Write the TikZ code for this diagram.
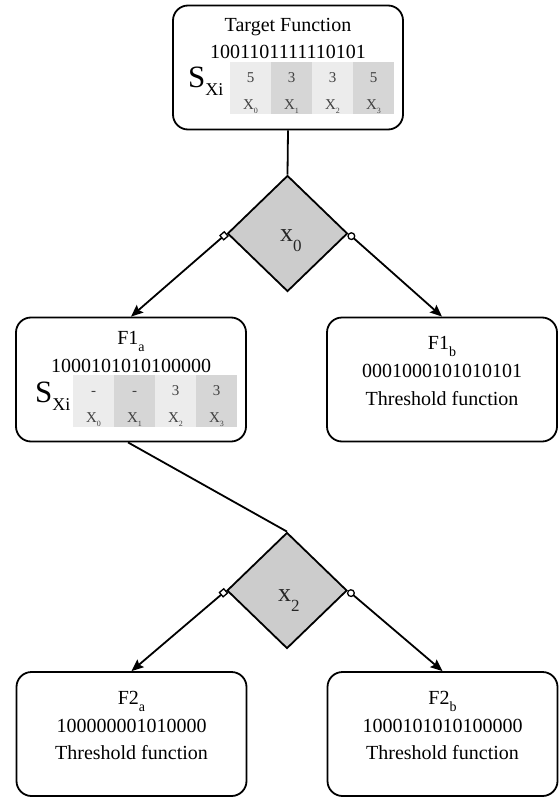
\documentclass[tikz,border=0pt]{standalone}
\usepackage{fontspec}
\setmainfont{Liberation Serif}
\usetikzlibrary{shapes.geometric,arrows.meta}
\definecolor{cellL}{gray}{0.925}
\definecolor{cellD}{gray}{0.84}
\definecolor{dia}{gray}{0.8}
\definecolor{numc}{gray}{0.25}
\newcommand\cellsub[1]{\raisebox{-4pt}{\fontsize{8}{8}\selectfont #1}}
\newcommand\boxsub[1]{\raisebox{-7pt}{\fontsize{14}{14}\selectfont #1}}
\newcommand\sxsub{\raisebox{-8pt}{\fontsize{18}{18}\selectfont Xi}}
\newcommand\diasub[1]{\raisebox{-10pt}{\fontsize{17}{17}\selectfont #1}}
\begin{document}
\begin{tikzpicture}[x=1pt,y=-1pt,
 fbox/.style={draw,line width=1.8pt,rounded corners=15pt,minimum width=230pt,minimum height=124pt,inner sep=0},
 txt/.style={font=\fontsize{20}{24}\selectfont,inner sep=0,anchor=base},
 sx/.style={font=\fontsize{31}{34}\selectfont,inner sep=0,anchor=base west},
 cell/.style={minimum width=41pt,minimum height=52pt,inner sep=0,anchor=north west},
 cnum/.style={font=\fontsize{15}{18}\selectfont,text=numc,inner sep=0,anchor=base},
 dec/.style={diamond,draw,fill=dia,line width=1.8pt,minimum width=120pt,minimum height=116pt,inner sep=0},
 dtxt/.style={font=\fontsize{26}{30}\selectfont,text=black!85,inner sep=0,anchor=base west},
 conn/.style={line width=1.8pt},
 arr/.style={line width=1.8pt,-{Stealth[length=12pt,width=10pt,inset=2pt]}},
 sqstart/.style={{Square[fill=white,length=7pt,width=7pt,line width=1.3pt]}-{Stealth[length=12pt,width=10pt,inset=2pt]}},
 cistart/.style={{Circle[fill=white,length=8pt,width=8pt,line width=1.3pt]}-{Stealth[length=12pt,width=10pt,inset=2pt]}}
]
\useasboundingbox (0,0) rectangle (559,797);

% ---------- top box ----------
\node[fbox] (top) at (288,67.5) {};
\node[txt] (toptitle) at (288,32) {Target Function};
\node[txt] (topbits) at (288,59) {1001101111110101};
\node[sx] (topsx) at (188,88) {S\sxsub};
\foreach \i/\n/\c in {0/5/cellL,1/3/cellD,2/3/cellL,3/5/cellD} {
  \node[cell,fill=\c] (tc\i) at (230+41*\i,62) {};
  \node[cnum] (tn\i) at (250.5+41*\i,83) {\n};
  \node[cnum] (tx\i) at (250.5+41*\i,110) {X\cellsub{\i}};
}

% ---------- decision x0 ----------
\node[dec] (d0) at (287.5,233.5) {};
\node[dtxt] (d0t) at (280,241) {x\diasub{0}};

% ---------- F1a ----------
\node[fbox] (f1a) at (131,379.5) {};
\node[txt] (f1at) at (131,344) {F1\boxsub{a}};
\node[txt] (f1ab) at (131,372) {1000101010100000};
\node[sx] (f1asx) at (35,402) {S\sxsub};
\foreach \i/\n/\c in {0/-/cellL,1/-/cellD,2/3/cellL,3/3/cellD} {
  \node[cell,fill=\c] (ac\i) at (73+41*\i,375) {};
  \node[cnum] (an\i) at (93.5+41*\i,395) {\n};
  \node[cnum] (ax\i) at (93.5+41*\i,422) {X\cellsub{\i}};
}

% ---------- F1b ----------
\node[fbox] (f1b) at (442,379.5) {};
\node[txt] (f1bt) at (442,349) {F1\boxsub{b}};
\node[txt] (f1bb) at (442,377) {0001000101010101};
\node[txt] (f1bf) at (442,405) {Threshold function};

% ---------- decision x2 ----------
\node[dec] (d1) at (287,590.5) {};
\node[dtxt] (d1t) at (278,601) {x\diasub{2}};

% ---------- F2a ----------
\node[fbox] (f2a) at (131.5,734) {};
\node[txt] (f2at) at (131.5,704) {F2\boxsub{a}};
\node[txt] (f2ab) at (131.5,732) {100000001010000};
\node[txt] (f2af) at (131.5,759) {Threshold function};

% ---------- F2b ----------
\node[fbox] (f2b) at (442.5,734) {};
\node[txt] (f2bt) at (442.5,704) {F2\boxsub{b}};
\node[txt] (f2bb) at (442.5,732) {1000101010100000};
\node[txt] (f2bf) at (442.5,759) {Threshold function};

% ---------- connectors ----------
\draw[conn] (top.south) -- (d0.north);
\draw[arr,sqstart] (d0.west) -- (f1a.north);
\draw[arr,cistart] (d0.east) -- (f1b.north);
\draw[conn] ([xshift=-3pt]f1a.south) -- (d1.north);
\draw[arr,sqstart] (d1.west) -- (f2a.north);
\draw[arr,cistart] (d1.east) -- (f2b.north);
\end{tikzpicture}
\end{document}
